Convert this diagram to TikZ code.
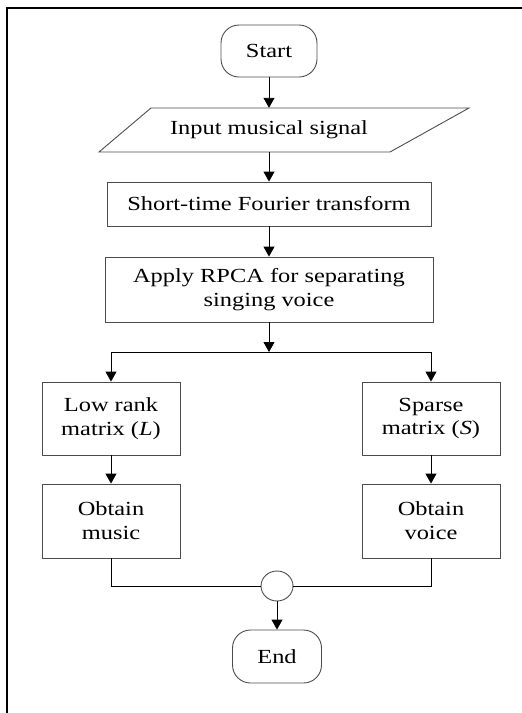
\documentclass[tikz,border=0pt]{standalone}
\usepackage{fontspec}
\setmainfont[FakeStretch=1.22]{Liberation Serif}
\usetikzlibrary{arrows.meta,calc,shapes.geometric}
\begin{document}
\begin{tikzpicture}[x=1pt,y=-1pt,
  every node/.style={font=\fontsize{20}{24}\selectfont, text=black},
  boxline/.style={draw=black!70, line width=0.9pt},
  procbox/.style={boxline, rectangle, align=center, inner sep=0pt},
  term/.style={boxline, rounded corners=18pt, inner sep=0pt},
  arr/.style={draw=black, line width=0.9pt, -{Triangle[length=10pt,width=11pt]}},
  ln/.style={draw=black, line width=0.9pt}]
\useasboundingbox (0,0) rectangle (522,713);
\draw[line width=2pt] (6.5,713) -- (6.5,7.5) -- (522,7.5);

\node[term, minimum width=96pt, minimum height=52pt] (start) at (269,51) {Start};
\node[minimum height=44pt, inner sep=0pt] (inp) at (269,130) {Input musical signal};
\draw[boxline] ([shift={(-118,-22)}]inp.center) -- ([shift={(200,-22)}]inp.center)
  -- ([shift={(121,22)}]inp.center) -- ([shift={(-170,22)}]inp.center) -- cycle;
\node[procbox, minimum width=324pt, minimum height=44pt] (stft) at (269,204) {Short-time Fourier transform};
\node[procbox, minimum width=328pt, minimum height=65pt] (rpca) at (269,289.5) {Apply RPCA for separating\\singing voice};
\coordinate (j1) at (269,352);
\node[procbox, minimum width=138pt, minimum height=73pt] (low) at (111,418.5) {Low rank\\matrix (\textit{L})};
\node[procbox, minimum width=138pt, minimum height=73pt] (sparse) at (431,418.5) {Sparse\\matrix (\textit{S})};
\node[procbox, minimum width=138pt, minimum height=74pt] (music) at (111,521) {Obtain\\music};
\node[procbox, minimum width=138pt, minimum height=74pt] (voice) at (431,521) {Obtain\\voice};
\node[boxline, ellipse, minimum width=32pt, minimum height=30pt, inner sep=0pt] (circ) at (277,586) {};
\node[term, minimum width=89pt, minimum height=53pt] (end) at (277,656.5) {End};

\draw[arr] (start.south) -- (inp.north);
\draw[arr] (inp.south) -- (stft.north);
\draw[arr] (stft.south) -- (rpca.north);
\draw[arr] (rpca.south) -- (j1);
\draw[arr] (j1) -| (low.north);
\draw[arr] (j1) -| (sparse.north);
\draw[arr] (low.south) -- (music.north);
\draw[arr] (sparse.south) -- (voice.north);
\draw[ln] (music.south) |- (circ.west);
\draw[ln] (voice.south) |- (circ.east);
\draw[arr] (circ.south) -- (end.north);
\end{tikzpicture}
\end{document}
